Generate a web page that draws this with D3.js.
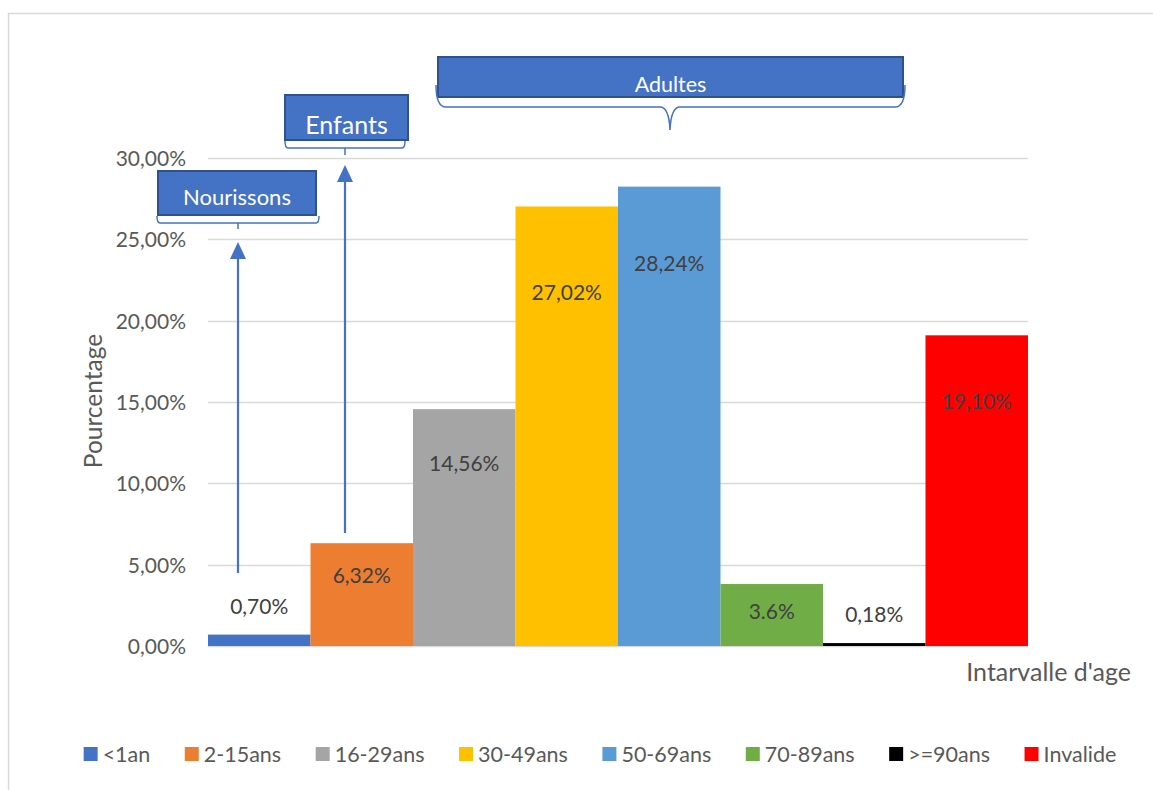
<!DOCTYPE html>
<html>
<head>
<meta charset="utf-8">
<script src="https://cdn.jsdelivr.net/npm/d3@7"></script>
<style>
  html, body { margin: 0; padding: 0; background: #fff; }
  svg { display: block; }
  text { font-family: "Lato", "Open Sans", sans-serif; }
</style>
</head>
<body>
<svg id="chart" width="1153" height="790"></svg>
<script>
// ---- Data ----
const categories = ["<1an", "2-15ans", "16-29ans", "30-49ans", "50-69ans", "70-89ans", ">=90ans", "Invalide"];
const values = [0.70, 6.32, 14.56, 27.02, 28.24, 3.81, 0.18, 19.10];
const labelTexts = ["0,70%", "6,32%", "14,56%", "27,02%", "28,24%", "3.6%", "0,18%", "19,10%"];
const labelAnchors = [2.4, 4.35, 11.2, 21.7, 23.5, 2.1, 1.9, 15.0];
const colors = ["#4472c4", "#ed7d31", "#a5a5a5", "#ffc000", "#5b9bd5", "#70ad47", "#000000", "#ff0000"];
const yTicks = [0, 5, 10, 15, 20, 25, 30];
const yTickLabels = ["0,00%", "5,00%", "10,00%", "15,00%", "20,00%", "25,00%", "30,00%"];
const groups = ["Nourissons", "Enfants", "Adultes"];

// ---- Layout ----
const svg = d3.select("#chart");
const plot = { left: 208, right: 1028, top: 158, bottom: 646 };

svg.append("rect")
  .attr("x", 8.5).attr("y", 13.5).attr("width", 1170).attr("height", 800)
  .attr("fill", "none").attr("stroke", "#d9d9d9").attr("stroke-width", 1.5);

const x = d3.scaleBand().domain(categories).range([plot.left, plot.right]).padding(0);
const y = d3.scaleLinear().domain([0, 30]).range([plot.bottom, plot.top]);

// gridlines
svg.append("g").selectAll("line").data(yTicks).join("line")
  .attr("x1", plot.left).attr("x2", plot.right)
  .attr("y1", d => Math.round(y(d)) + 0.5).attr("y2", d => Math.round(y(d)) + 0.5)
  .attr("stroke", "#d9d9d9").attr("stroke-width", 1.3);

// y axis labels via d3 axis
const yAxis = d3.axisLeft(y).tickValues(yTicks).tickSize(0).tickPadding(0)
  .tickFormat((d, i) => yTickLabels[i]);
const gy = svg.append("g").attr("transform", `translate(186,0)`).call(yAxis);
gy.select(".domain").remove();
gy.selectAll("text").attr("fill", "#595959").style("font-size", "21px")
  .style("font-family", "Lato, sans-serif").attr("dy", "0.35em");

// bars
svg.append("g").selectAll("rect").data(values).join("rect")
  .attr("x", (d, i) => x(categories[i]))
  .attr("width", x.bandwidth())
  .attr("y", d => y(d))
  .attr("height", d => y(0) - y(d))
  .attr("fill", (d, i) => colors[i]);

// data labels
svg.append("g").selectAll("text").data(labelTexts).join("text")
  .attr("x", (d, i) => x(categories[i]) + x.bandwidth() / 2)
  .attr("y", (d, i) => y(labelAnchors[i]))
  .attr("text-anchor", "middle").attr("dy", "0.35em")
  .attr("fill", "#404040").style("font-size", "21px")
  .text(d => d);

// axis titles
svg.append("text").attr("x", 1131).attr("y", 672).attr("dy", "0.35em")
  .attr("text-anchor", "end").attr("fill", "#595959").style("font-size", "25px")
  .text("Intarvalle d'age");
svg.append("text").attr("transform", "translate(93,401) rotate(-90)")
  .attr("text-anchor", "middle").attr("dy", "0.35em")
  .attr("fill", "#595959").style("font-size", "24.5px").text("Pourcentage");

// ---- Annotations ----
const blue = "#4472c4", dark = "#2f528f";
const ann = svg.append("g");
function box(x0, y0, w, h, label, fs, ty) {
  ann.append("rect").attr("x", x0).attr("y", y0).attr("width", w).attr("height", h)
    .attr("fill", blue).attr("stroke", dark).attr("stroke-width", 2);
  ann.append("text").attr("x", x0 + w / 2).attr("y", ty).attr("dy", "0.35em")
    .attr("text-anchor", "middle").attr("fill", "#fff").style("font-size", fs + "px").text(label);
}
box(158, 171, 158, 44, groups[0], 22, 197);
box(285, 95, 123, 45, groups[1], 25, 125);
box(438, 57, 465, 40, groups[2], 21.5, 84);

const bracketStyle = p => ann.append("path").attr("d", p).attr("fill", "none")
  .attr("stroke", blue).attr("stroke-width", 1.5);
bracketStyle("M157,216 Q157,223 160,223 L316,223 Q319,223 319,216 M238,223 L238,229");
bracketStyle("M285,141 Q285,148 288,148 L402,148 Q405,148 405,141 M345,148 L345,155");
bracketStyle("M436,85 Q436,107 446,107 L660,107 Q669,107 670,130 Q671,107 680,107 L895,107 Q905,107 905,85");

function arrow(xa, yb, yt) {
  ann.append("line").attr("x1", xa).attr("x2", xa).attr("y1", yb).attr("y2", yt + 14)
    .attr("stroke", blue).attr("stroke-width", 2.2);
  ann.append("path").attr("d", `M${xa},${yt} L${xa - 8},${yt + 17} L${xa + 8},${yt + 17} Z`)
    .attr("fill", blue);
}
arrow(238, 573, 242);
arrow(345, 533, 165);

// ---- Legend ----
const lg = svg.append("g");
const items = lg.selectAll("g").data(categories).join("g");
items.append("rect").attr("width", 14).attr("height", 14).attr("y", 747)
  .attr("fill", (d, i) => colors[i]);
items.append("text").attr("x", 19).attr("y", 754).attr("dy", "0.35em")
  .attr("fill", "#595959").style("font-size", "21.5px").text(d => d);
let widths = [];
items.each(function () { widths.push(19 + d3.select(this).select("text").node().getComputedTextLength()); });
const gap = 34.5;
const total = d3.sum(widths) + gap * (widths.length - 1);
let cx = 600 - total / 2;
items.each(function (d, i) {
  d3.select(this).attr("transform", `translate(${cx},0)`);
  cx += widths[i] + gap;
});
</script>
</body>
</html>
